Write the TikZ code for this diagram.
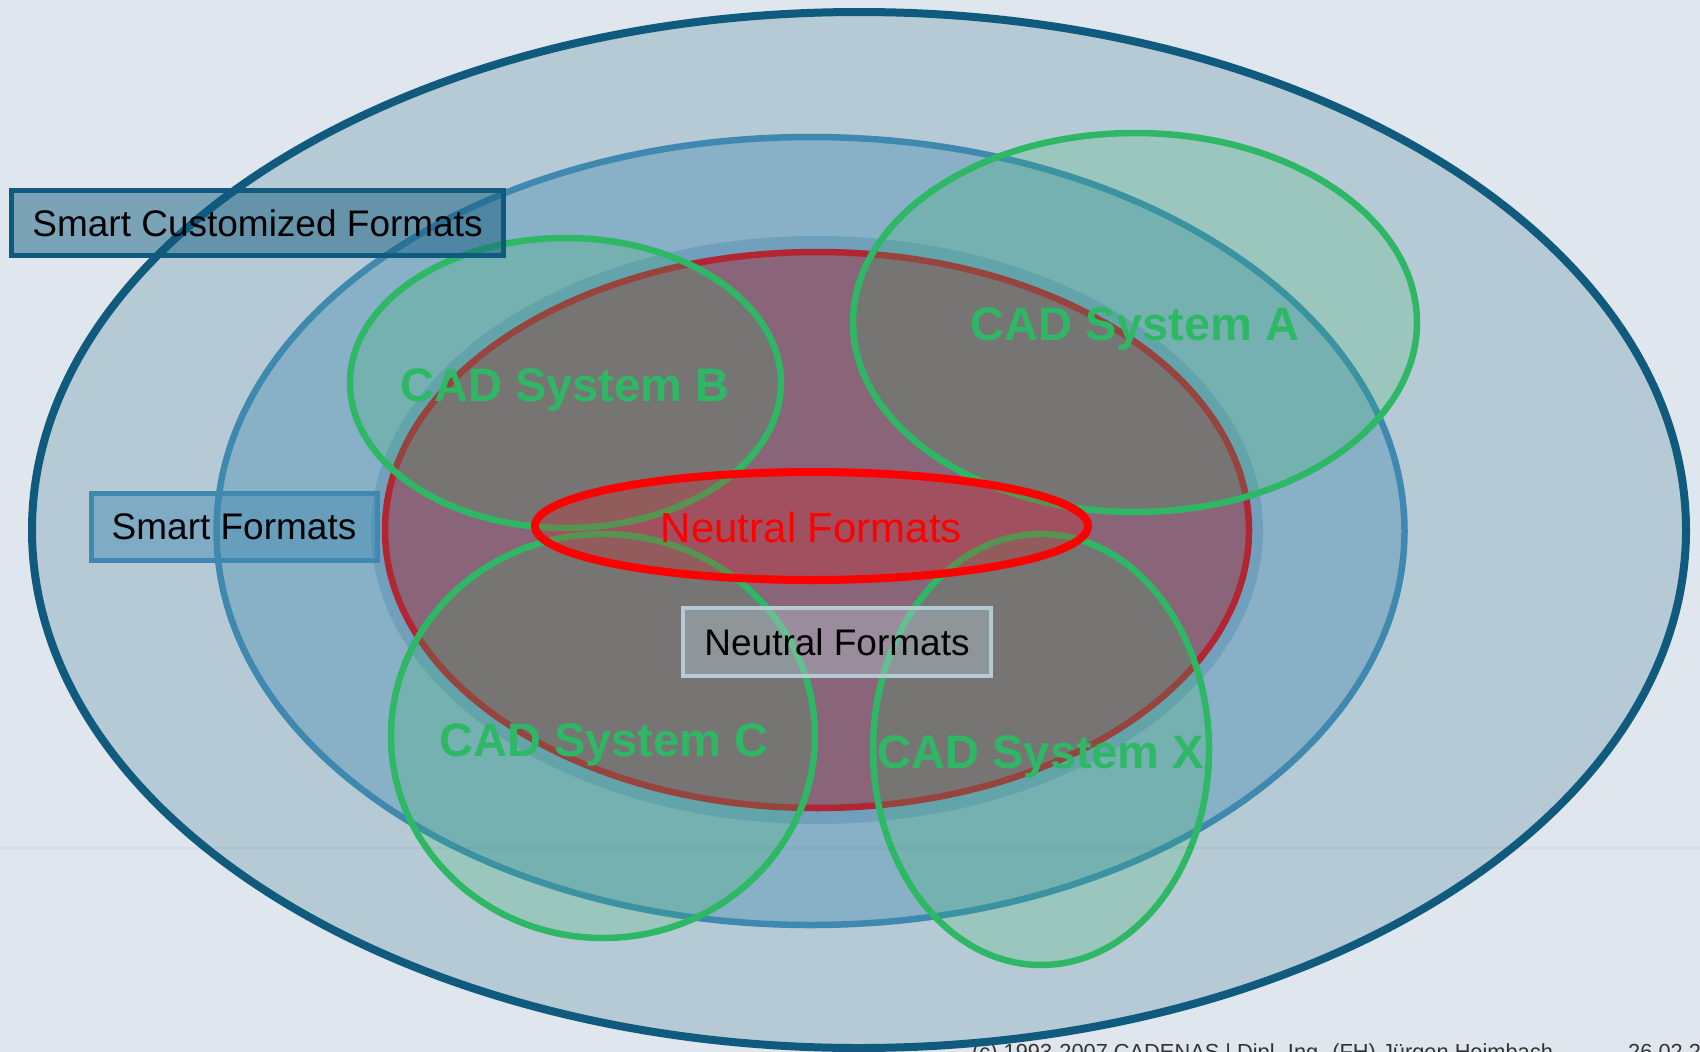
\documentclass[tikz,border=0pt]{standalone}
\usepackage{fontspec}
\setmainfont{Liberation Sans}
\definecolor{bgcol}{HTML}{DFE6ED}
\definecolor{outerfill}{HTML}{B5CAD5}
\definecolor{outerline}{HTML}{0F5A7D}
\definecolor{midfill}{HTML}{88B0C6}
\definecolor{midline}{HTML}{3F89B0}
\definecolor{halocol}{HTML}{70A0BC}
\definecolor{neufill}{HTML}{8A6478}
\definecolor{neuline}{HTML}{B22634}
\definecolor{cadgreen}{HTML}{2EB866}
\definecolor{footcol}{HTML}{333333}
\definecolor{greybox}{HTML}{B5CAD5}
\begin{document}
\begin{tikzpicture}[x=1pt,y=-1pt,
  greenell/.style={draw=cadgreen, line width=6.5pt, fill=cadgreen, fill opacity=0.2},
  cad/.style={font=\fontsize{47}{50}\selectfont\bfseries, text=cadgreen, inner sep=0pt, anchor=base},
  boxlbl/.style={font=\fontsize{37}{40}\selectfont, text=black, text opacity=1, inner sep=0pt, rectangle},
  footer/.style={font=\fontsize{21.8}{24}\selectfont, text=footcol, inner sep=0pt, anchor=base west}
]
\useasboundingbox (0,0) rectangle (1700,1052);
\clip (0,0) rectangle (1700,1052);
\fill[bgcol] (0,0) rectangle (1700,1052);
% footer
\node[footer] (foot) at (972,1059) {(c) 1993-2007 CADENAS | Dipl.-Ing. (FH) Jürgen Heimbach};
\node[footer] (date) at (1628,1059) {26.02.2007};
% outer ellipse
\draw[draw=outerline, fill=outerfill, line width=8pt] (859,530) ellipse [x radius=827pt, y radius=518pt];
% middle ellipse
\draw[draw=midline, fill=midfill, line width=6.5pt] (810.5,531) ellipse [x radius=594pt, y radius=394pt];
% halo + neutral region
\fill[halocol] (817,530) ellipse [x radius=446pt, y radius=294pt];
\draw[draw=neuline, fill=neufill, line width=6.5pt] (817,530) ellipse [x radius=432pt, y radius=278pt];
% Smart Formats box
\node[boxlbl, draw=midline, line width=5pt, fill=midline, fill opacity=0.45,
      minimum width=286pt, minimum height=67pt] (sf) at (234,526.5) {Smart Formats};
% green CAD ellipses
\draw[greenell] (1135,322.5) ellipse [x radius=282pt, y radius=189.5pt];
\draw[greenell] (565.5,383) ellipse [x radius=215.5pt, y radius=145pt];
\draw[greenell] (603,736) ellipse [x radius=212pt, y radius=202pt];
\draw[greenell] (1041,749.5) ellipse [x radius=168pt, y radius=215.5pt];
% Smart Customized Formats box
\node[boxlbl, draw=outerline, line width=5pt, fill=outerline, fill opacity=0.48,
      minimum width=492pt, minimum height=65pt] (scf) at (257.5,223) {Smart Customized Formats};
% small neutral formats ellipse
\draw[draw=red, line width=8pt, fill=red, fill opacity=0.2] (811.5,526) ellipse [x radius=276.5pt, y radius=54pt];
\node[font=\fontsize{42}{45}\selectfont, text=red, inner sep=0pt, anchor=base] (nfr) at (811.5,542) {Neutral Formats};
% grey Neutral Formats box
\node[boxlbl, draw=greybox, line width=4pt, fill=greybox, fill opacity=0.4,
      minimum width=308pt, minimum height=68pt] (nfb) at (837,642) {Neutral Formats};
% CAD labels
\node[cad] (la) at (1135,340) {CAD System A};
\node[cad] (lb) at (565,401) {CAD System B};
\node[cad] (lc) at (604,756) {CAD System C};
\node[cad] (lx) at (1041,768) {CAD System X};
% faint slide line
\draw[draw=black, opacity=0.03, line width=2pt] (0,848) -- (1700,848);
\end{tikzpicture}
\end{document}
